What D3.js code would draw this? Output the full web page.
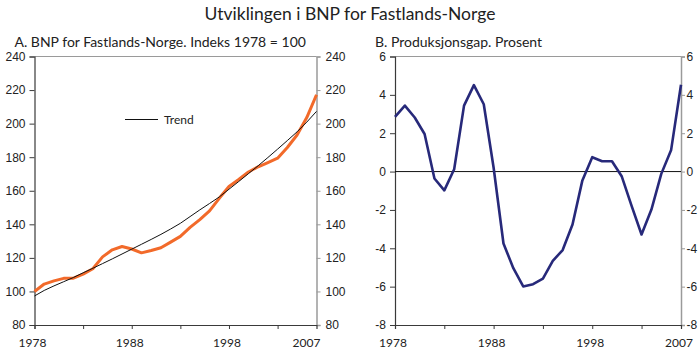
<!DOCTYPE html>
<html>
<head>
<meta charset="utf-8">
<script src="https://cdn.jsdelivr.net/npm/d3@7"></script>
<style>
  html, body { margin: 0; padding: 0; background: #fff; }
  svg { display: block; font-family: Lato, 'Open Sans', sans-serif; }
</style>
</head>
<body>
<svg id="chart" width="700" height="352"></svg>
<script>
const years = d3.range(1978, 2008);
// BNP Fastlands-Norge, indeks 1978 = 100
const bnp = [100, 104.4, 106.3, 107.8, 107.9, 110.3, 113.5, 120.6, 124.8, 126.8,
  125.3, 123.0, 124.4, 126.0, 129.4, 132.8, 138.2, 142.8, 148.0, 155.5,
  162.5, 166.7, 171.2, 174.3, 176.8, 179.4, 185.8, 193.2, 203.6, 217.2];
const trend = [97.3, 100.6, 103.3, 105.8, 108.3, 111.1, 113.8, 116.6, 119.4, 122.3,
  125.2, 128.1, 131.0, 134.0, 137.2, 140.6, 144.6, 148.6, 152.4, 156.3,
  160.9, 165.5, 170.2, 174.9, 179.8, 184.8, 189.9, 195.1, 200.9, 207.3];
// Produksjonsgap, prosent
const gap = [2.85, 3.44, 2.82, 1.96, -0.36, -0.98, 0.12, 3.44, 4.51, 3.51,
  0.2, -3.75, -5.04, -5.99, -5.87, -5.58, -4.66, -4.09, -2.76, -0.46,
  0.75, 0.54, 0.54, -0.26, -1.8, -3.28, -1.98, -0.12, 1.13, 4.53];
const xTicks = [1978, 1983, 1988, 1993, 1998, 2003];
const xLabels = [1978, 1988, 1998, 2007];
const yTicksA = [80, 100, 120, 140, 160, 180, 200, 220, 240];
const yTicksB = [-8, -6, -4, -2, 0, 2, 4, 6];

const title = 'Utviklingen i BNP for Fastlands-Norge';
const titleA = 'A.  BNP for Fastlands-Norge. Indeks 1978 = 100';
const titleB = 'B.  Produksjonsgap. Prosent';

const orange = '#f26a2a';
const navy = '#27297a';
const axisDark = '#3a3a3a';
const axisGrey = '#9a9a9a';
const textColor = '#222';

const svg = d3.select('#chart');
const plotTop = 56.5, plotBottom = 325;

svg.append('text')
  .attr('x', 350)
  .attr('y', 20)
  .attr('text-anchor', 'middle')
  .attr('font-size', 17.5)
  .attr('fill', textColor)
  .text(title);

// panel med akser
function panel(left, right, yDomain, yTicks, heading, padRight) {
  const g = svg.append('g');
  const x = d3.scaleLinear().domain([1978, 2007]).range([left, right]);
  const y = d3.scaleLinear().domain(yDomain).range([plotBottom, plotTop]);
  const fmt = d => String(d);

  g.append('text')
    .attr('x', left - 20)
    .attr('y', 47)
    .attr('font-size', 14)
    .attr('fill', textColor)
    .text(heading);

  // ramme topp
  g.append('line')
    .attr('x1', left).attr('x2', right)
    .attr('y1', plotTop).attr('y2', plotTop)
    .attr('stroke', axisGrey);

  const yLeft = d3.axisLeft(y).tickValues(yTicks).tickFormat(fmt).tickSize(5).tickPadding(4);
  const yl = g.append('g')
    .attr('transform', `translate(${left},0)`)
    .call(yLeft);
  yl.select('.domain').attr('stroke', axisDark).attr('stroke-width', 1.2);
  yl.selectAll('line').attr('stroke', axisDark);
  yl.selectAll('text').attr('font-size', 12).attr('fill', textColor).attr('font-family', null);

  const yRight = d3.axisRight(y).tickValues(yTicks).tickFormat(fmt).tickSize(4).tickPadding(padRight);
  const yr = g.append('g')
    .attr('transform', `translate(${right},0)`)
    .call(yRight);
  yr.select('.domain').attr('stroke', axisGrey).attr('stroke-width', 1.5);
  yr.selectAll('line').attr('stroke', axisGrey);
  yr.selectAll('text').attr('font-size', 12).attr('fill', textColor).attr('font-family', null);

  const xAxis = d3.axisBottom(x).tickValues(xTicks).tickSize(4).tickFormat('');
  const xa = g.append('g')
    .attr('transform', `translate(0,${plotBottom})`)
    .call(xAxis);
  xa.select('.domain').attr('stroke', axisDark).attr('stroke-width', 1.2);
  xa.selectAll('line').attr('stroke', axisDark);

  g.selectAll('.xlab').data(xLabels).enter()
    .append('text')
    .attr('class', 'xlab')
    .attr('x', d => x(d) - 2)
    .attr('y', 347)
    .attr('text-anchor', 'middle')
    .attr('font-size', 12)
    .attr('fill', textColor)
    .text(d => d);

  return { g, x, y };
}

// A. BNP
const a = panel(34.5, 316.5, [80, 240], yTicksA, titleA, 5);
a.g.selectAll('.xlab').filter(d => d === 2007).attr('x', a.x(2007) - 10);

const lineA = d3.line().x((d, i) => a.x(years[i])).y(d => a.y(d));
a.g.append('path')
  .datum(bnp)
  .attr('d', lineA)
  .attr('fill', 'none')
  .attr('stroke', orange)
  .attr('stroke-width', 3)
  .attr('stroke-linejoin', 'round');
a.g.append('path')
  .datum(trend)
  .attr('d', lineA)
  .attr('fill', 'none')
  .attr('stroke', '#111')
  .attr('stroke-width', 1);

// legend
a.g.append('line')
  .attr('x1', 125).attr('x2', 158)
  .attr('y1', 119.5).attr('y2', 119.5)
  .attr('stroke', '#111');
a.g.append('text')
  .attr('x', 164)
  .attr('y', 123.5)
  .attr('font-size', 12)
  .attr('fill', textColor)
  .text('Trend');

// B. Produksjonsgap
const b = panel(395, 681, [-8, 6], yTicksB, titleB, 1.5);
b.g.append('line')
  .attr('x1', b.x(1978)).attr('x2', b.x(2007))
  .attr('y1', b.y(0)).attr('y2', b.y(0))
  .attr('stroke', '#111');
b.g.append('path')
  .datum(gap)
  .attr('d', d3.line().x((d, i) => b.x(years[i])).y(d => b.y(d)))
  .attr('fill', 'none')
  .attr('stroke', navy)
  .attr('stroke-width', 2.6)
  .attr('stroke-linejoin', 'round');
</script>
</body>
</html>
